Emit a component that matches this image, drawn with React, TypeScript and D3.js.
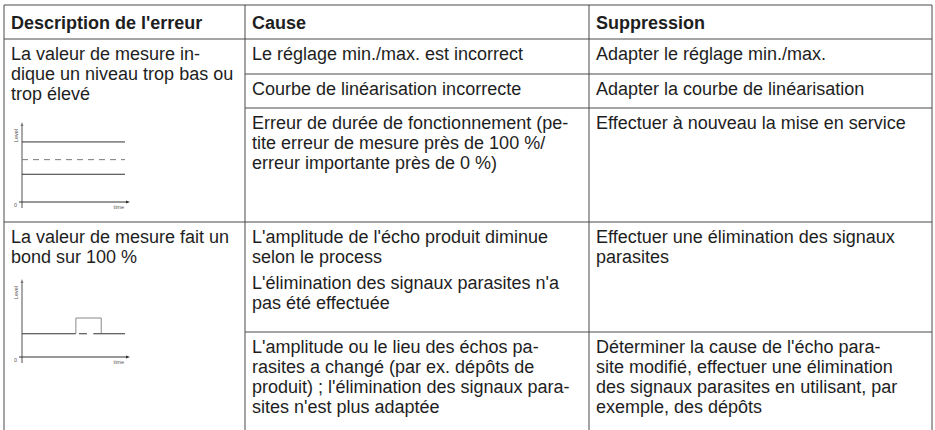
import React from 'react';
import * as d3 from 'd3';

// Textes du tableau
const headers = ["Description de l'erreur", 'Cause', 'Suppression'];

const errorDescriptions = [
  ['La valeur de mesure in-', 'dique un niveau trop bas ou', 'trop élevé'],
  ['La valeur de mesure fait un', 'bond sur 100 %'],
];

const causesRow1 = [
  [['Le réglage min./max. est incorrect']],
  [['Courbe de linéarisation incorrecte']],
  [['Erreur de durée de fonctionnement (pe-', 'tite erreur de mesure près de 100 %/', 'erreur importante près de 0 %)']],
];
const fixesRow1 = [
  ['Adapter le réglage min./max.'],
  ['Adapter la courbe de linéarisation'],
  ['Effectuer à nouveau la mise en service'],
];

const causesRow2 = [
  [
    ["L'amplitude de l'écho produit diminue", 'selon le process'],
    ["L'élimination des signaux parasites n'a", 'pas été effectuée'],
  ],
  [["L'amplitude ou le lieu des échos pa-", 'rasites a changé (par ex. dépôts de', "produit) ; l'élimination des signaux para-", "sites n'est plus adaptée"]],
];
const fixesRow2 = [
  ['Effectuer une élimination des signaux', 'parasites'],
  ["Déterminer la cause de l'écho para-", "site modifié, effectuer une élimination", 'des signaux parasites en utilisant, par', 'exemple, des dépôts'],
];

// Petits graphiques (niveau 0..100 en fonction du temps 0..130)
const chart1Solid = [78, 36];
const chart1Dashed = [55];
const chart2Time = [0, 68, 68, 100, 100, 130];
const chart2Level = [31, 31, 52, 52, 31, 31];
const chart2DashedTime = [72, 82, 90, 100];

// Géométrie
const colX = [4, 245, 589, 932];
const rowY = { top: 5, head: 39, a: 74, b: 108, r1: 222, r2a: 332, bottom: 440 };
const fontSize = 18;
const lineH = 20;
const textColor = '#1e1e1e';
const gridColor = '#4a4a4a';
const fontFamily = '"Liberation Sans", Arial, Helvetica, sans-serif';

const Lines = ({ x, y, lines, bold = false }: { x: number; y: number; lines: string[]; bold?: boolean }) => (
  <text x={x} y={y} fontSize={fontSize} fontWeight={bold ? 700 : 400} fill={textColor} fontFamily={fontFamily}>
    {lines.map((l, i) => (
      <tspan key={i} x={x} y={y + i * lineH}>{l}</tspan>
    ))}
  </text>
);

const Paragraphs = ({ x, y, paras }: { x: number; y: number; paras: string[][] }) => {
  let cy = y;
  return (
    <g>
      {paras.map((p, i) => {
        const el = <Lines key={i} x={x} y={cy} lines={p} />;
        cy += p.length * lineH + 6;
        return el;
      })}
    </g>
  );
};

const MiniChart = ({ x0, y0, h, kind }: { x0: number; y0: number; h: number; kind: number }) => {
  const x = d3.scaleLinear().domain([0, 130]).range([x0, x0 + 103]);
  const y = d3.scaleLinear().domain([0, 100]).range([y0, y0 - h]);
  const axis = '#7a7a7a';
  const ink = '#333';
  const line = d3.line<[number, number]>().x(d => x(d[0])).y(d => y(d[1]));
  const pts = chart2Time.map((t, i) => [t, chart2Level[i]] as [number, number]);
  return (
    <g>
      <line x1={x(0)} x2={x(0)} y1={y(0) + 6} y2={y(100)} stroke={axis} strokeWidth={1.3} />
      <line x1={x(0) - 3} x2={x(130) + 3} y1={y(0)} y2={y(0)} stroke={ink} strokeWidth={1} />
      <path d={`M${x(130) + 5},${y(0)}l-4,-1.5v3z`} fill={ink} />
      <path d={`M${x(0)},${y(100) - 3}l-1.5,4h3z`} fill={axis} />
      <text x={x(0) - 8} y={y(0) + 5} fontSize={5.5} fill="#555" fontFamily={fontFamily}>0</text>
      <text x={x(130) - 1} y={y(0) + 7} fontSize={5.5} fill="#555" textAnchor="end" fontFamily={fontFamily}>time</text>
      <text transform={`translate(${x(0) - 4},${y(100) + 4}) rotate(-90)`} fontSize={5.5} fill="#555" textAnchor="end" fontFamily={fontFamily}>Level</text>
      {kind === 1 && (
        <g>
          {chart1Solid.map((v, i) => (
            <path key={i} d={line([[0, v], [130, v]]) || ''} stroke={ink} strokeWidth={1} fill="none" />
          ))}
          {chart1Dashed.map((v, i) => (
            <path key={i} d={line([[0, v], [130, v]]) || ''} stroke={axis} strokeWidth={1} fill="none" strokeDasharray="6,5" />
          ))}
        </g>
      )}
      {kind === 2 && (
        <g>
          <path d={line(pts.slice(0, 2)) || ''} stroke={ink} fill="none" />
          <path d={line(pts.slice(1, 5)) || ''} stroke="#8a8a8a" fill="none" />
          <path d={line(pts.slice(4)) || ''} stroke={ink} fill="none" />
          {d3.range(0, chart2DashedTime.length, 2).map(i => (
            <path key={i} d={line([[chart2DashedTime[i], chart2Level[0]], [chart2DashedTime[i + 1], chart2Level[0]]]) || ''} stroke={ink} fill="none" />
          ))}
        </g>
      )}
    </g>
  );
};

export default function App() {
  const tx = [colX[0] + 7, colX[1] + 7, colX[2] + 7];
  const base = 21;
  const hl = (y: number, x1: number, x2: number, k: string) => (
    <line key={k} x1={x1} x2={x2} y1={y} y2={y} stroke={gridColor} strokeWidth={1} />
  );
  return (
    <svg width={935} height={430} style={{ position: 'absolute', left: 0, top: 0, background: '#fff' }}>
      <rect width={935} height={430} fill="#fff" />
      {/* lignes du tableau */}
      {hl(rowY.top, colX[0], colX[3], 't')}
      {hl(rowY.head, colX[0], colX[3], 'h')}
      {hl(rowY.a, colX[1], colX[3], 'a')}
      {hl(rowY.b, colX[1], colX[3], 'b')}
      {hl(rowY.r1, colX[0], colX[3], 'r1')}
      {hl(rowY.r2a, colX[1], colX[3], 'r2a')}
      {colX.map((x, i) => (
        <line key={i} x1={x} x2={x} y1={rowY.top} y2={rowY.bottom} stroke={gridColor} strokeWidth={1} />
      ))}

      {/* en-tête */}
      {headers.map((h, i) => (
        <Lines key={i} x={tx[i]} y={rowY.top + 24} lines={[h]} bold />
      ))}

      {/* ligne 1 */}
      <Lines x={tx[0]} y={rowY.head + base} lines={errorDescriptions[0]} />
      <MiniChart x0={22} y0={202} h={77} kind={1} />
      {[rowY.head, rowY.a, rowY.b].map((top, i) => (
        <g key={i}>
          <Paragraphs x={tx[1]} y={top + base} paras={causesRow1[i]} />
          <Lines x={tx[2]} y={top + base} lines={fixesRow1[i]} />
        </g>
      ))}

      {/* ligne 2 */}
      <Lines x={tx[0]} y={rowY.r1 + base} lines={errorDescriptions[1]} />
      <MiniChart x0={22} y0={357} h={75} kind={2} />
      {[rowY.r1, rowY.r2a].map((top, i) => (
        <g key={i}>
          <Paragraphs x={tx[1]} y={top + base} paras={causesRow2[i]} />
          <Lines x={tx[2]} y={top + base} lines={fixesRow2[i]} />
        </g>
      ))}
    </svg>
  );
}
